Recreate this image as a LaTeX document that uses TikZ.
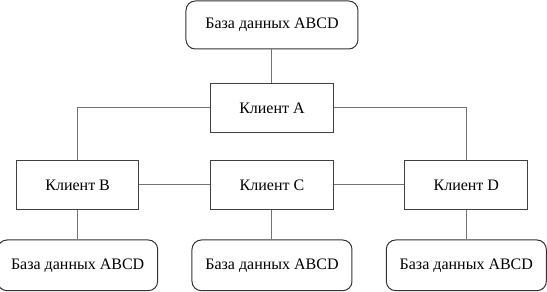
\documentclass[tikz,border=0pt]{standalone}
\usepackage{fontspec}
\setmainfont{Liberation Serif}
\newfontfamily\timesfont{Liberation Serif}
\usetikzlibrary{positioning}

\begin{document}
\begin{tikzpicture}[
    font=\timesfont\fontsize{12pt}{14pt}\selectfont,
    client/.style={draw=black!75, line width=0.75pt, fill=white, minimum width=92pt, minimum height=37pt, inner sep=0pt},
    db/.style={draw=black!80, line width=0.75pt, rounded corners=7pt, fill=white, minimum width=120pt, minimum height=38pt, inner sep=0pt},
    link/.style={draw=black!55, line width=0.75pt}
]
    \useasboundingbox (-204pt,18.75pt) rectangle (206.25pt,-200.25pt);

    \node[db, minimum width=129pt, minimum height=36pt] (dbtop) at (0,0) {База данных ABCD};
    \node[client, below=25pt of dbtop] (ka) {Клиент A};
    \node[client, below=20pt of ka] (kc) {Клиент C};
    \node[client, left=53pt of kc] (kb) {Клиент B};
    \node[client, right=53pt of kc] (kd) {Клиент D};
    \node[db, below=22pt of kb] (dbb) {База данных ABCD};
    \node[db, below=22pt of kc] (dbc) {База данных ABCD};
    \node[db, below=22pt of kd] (dbd) {База данных ABCD};

    \draw[link] (dbtop) -- (ka);
    \draw[link] (ka.west) -| (kb.north);
    \draw[link] (ka.east) -| (kd.north);
    \draw[link] (kb) -- (kc);
    \draw[link] (kc) -- (kd);
    \draw[link] (kb) -- (dbb);
    \draw[link] (kc) -- (dbc);
    \draw[link] (kd) -- (dbd);
\end{tikzpicture}
\end{document}
